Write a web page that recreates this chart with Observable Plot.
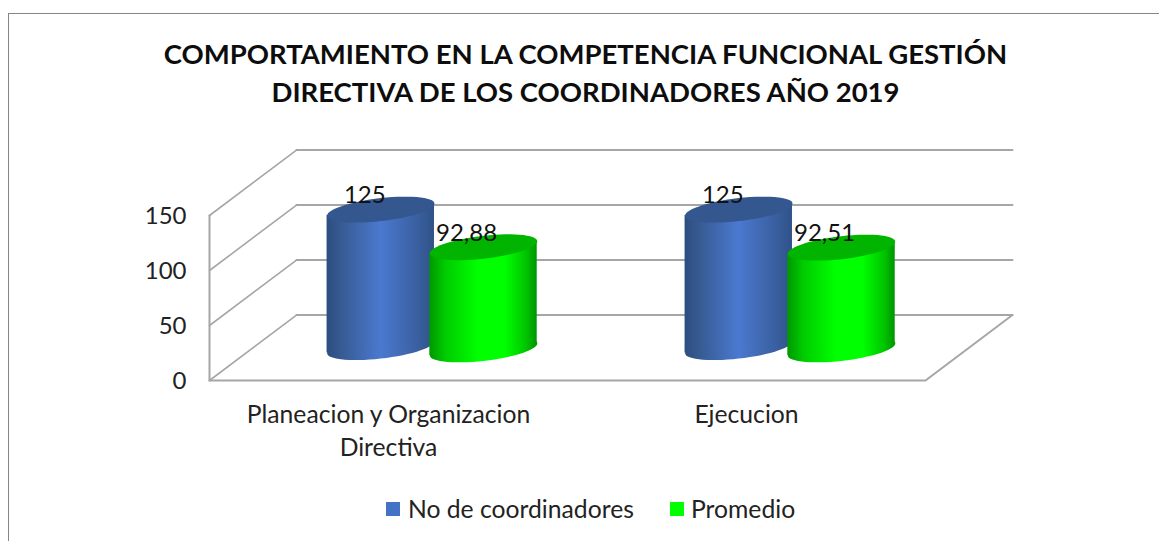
<!DOCTYPE html>
<html lang="es">
<head>
<meta charset="utf-8">
<script src="https://cdn.jsdelivr.net/npm/d3@7"></script>
<script src="https://cdn.jsdelivr.net/npm/@observablehq/plot@0.6"></script>
<style>
  html, body { margin: 0; padding: 0; background: #fff; overflow: hidden; }
  #page { position: relative; width: 1159px; height: 541px; font-family: Lato, sans-serif; color: #111; overflow: hidden; }
  #frame { position: absolute; left: 8px; top: 13px; right: -4px; bottom: -4px; border: 1.4px solid #868686; }
  #title { position: absolute; left: 0; top: 35px; width: 1171px; text-align: center; font-size: 27.5px; font-weight: 700; line-height: 38px; color: #0d0d0d; }
  #chart { position: absolute; left: 0; top: 130px; }
  #legend { position: absolute; left: 0; top: 494px; width: 1159px; height: 30px; font-size: 24.7px; line-height: 30px; color: #222; }
  #legend i { position: absolute; top: 8px; width: 14px; height: 14px; }
  #legend span { position: absolute; top: 0; white-space: nowrap; }
</style>
</head>
<body>
<div id="page">
  <div id="frame"></div>
  <div id="title"></div>
  <div id="chart"></div>
  <div id="legend"></div>
</div>
<script>
const titleLines = ["COMPORTAMIENTO EN LA COMPETENCIA FUNCIONAL GESTIÓN", "DIRECTIVA DE LOS COORDINADORES AÑO 2019"];
const categories = ["Planeacion y Organizacion\nDirectiva", "Ejecucion"];
const seriesNames = ["No de coordinadores", "Promedio"];
const noCoordinadores = [125, 125];
const promedio = [92.88, 92.51];
const valueLabels = [["125", "125"], ["92,88", "92,51"]];
const yTicks = [0, 50, 100, 150];
const seriesColors = ["#4472c4", "#00ff00"];

// page text
document.getElementById("title").innerHTML = titleLines.join("<br>");
const legend = document.getElementById("legend");
[[386, 408], [670, 691]].forEach(([sx, tx], i) => {
  legend.insertAdjacentHTML("beforeend",
    `<i style="left:${sx}px;background:${seriesColors[i]}"></i><span style="left:${tx}px">${seriesNames[i]}</span>`);
});

// oblique projection: category units across, value units up, depth 0..1 into the page
const depthX = 0.243, depthY = 59.5;
const px = (u, d) => u + d * depthX;
const py = (v, d) => v + d * depthY;
const xSpan = 2;
const yMax = yTicks[yTicks.length - 1];

const width = 1159, height = 350;
const marginLeft = 209, marginRight = 234, marginTop = 85, marginBottom = 100;
const pxPerUnit = (width - marginLeft - marginRight) / xSpan;
const pxPerValue = (height - marginTop - marginBottom) / yMax;

// tilted ellipse for the cylinder caps
const halfW = 0.15;
const a = halfW * pxPerUnit, skew = 6, b = 11.5;
const capSymbol = {
  draw(ctx) {
    const n = 60;
    for (let i = 0; i < n; ++i) {
      const t = (2 * Math.PI * i) / n;
      const x = a * Math.cos(t);
      const y = b * Math.sin(t) - skew * Math.cos(t);
      i ? ctx.lineTo(x, y) : ctx.moveTo(x, y);
    }
    ctx.closePath();
  }
};

// cylinders
const series = [
  {values: noCoordinadores, offset: -0.1455, depth: 0.51, grad: "gBlue", top: "#35578f", dx: -16},
  {values: promedio, offset: 0.15, depth: 0.475, grad: "gGreen", top: "#00b400", dx: -17}
];
const tilt = skew / pxPerValue;
const cylinderMarks = [];
series.forEach((s, si) => {
  const rows = s.values.map((v, i) => ({
    i, v,
    x: px(i + 0.5 + s.offset, s.depth),
    base: py(0, s.depth),
    top: py(v, s.depth),
    label: valueLabels[si][i]
  }));
  // left end of the body sits low, right end high, following the caps' tilt
  const body = rows.flatMap(r => [
    {id: r.i, x: r.x - halfW, y1: r.base - tilt, y2: r.top - tilt},
    {id: r.i, x: r.x + halfW, y1: r.base + tilt, y2: r.top + tilt}
  ]);
  cylinderMarks.push(
    Plot.dot(rows, {x: "x", y: "base", r: 10, symbol: capSymbol, fill: `url(#${s.grad})`, stroke: "none"}),
    Plot.areaY(body, {x: "x", y1: "y1", y2: "y2", z: "id", fill: `url(#${s.grad})`, curve: "linear"}),
    Plot.dot(rows, {x: "x", y: "top", r: 10, symbol: capSymbol, fill: s.top, stroke: "none"})
  );
  s.rows = rows;
});

// chart box
const wallColor = "#a6a6a6";
const backGrid = yTicks.map(t => [{x: px(0, 1), y: py(t, 1), t}, {x: px(xSpan, 1), y: py(t, 1), t}]).flat();
const sideGrid = yTicks.map(t => [{x: px(0, 0), y: py(t, 0), t}, {x: px(0, 1), y: py(t, 1), t}]).flat();
const frontEdge = [{x: px(0, 0), y: 0}, {x: px(0, 0), y: yMax}];
const floorEdge = [
  {x: px(0, 0), y: 0},
  {x: px(xSpan, 0), y: 0},
  {x: px(xSpan, 1), y: py(0, 1)}
];

const gradient = (id, stops) => () => {
  const g = d3.create("svg:linearGradient").attr("id", id)
    .attr("x1", 0).attr("x2", 1).attr("y1", 0).attr("y2", 0);
  stops.forEach(([o, c]) => g.append("stop").attr("offset", o).attr("stop-color", c));
  const defs = d3.create("svg:defs");
  defs.append(() => g.node());
  return defs.node();
};

const catRows = categories.map((c, i) => ({c, x: i + 0.5}));

const chart = Plot.plot({
  width, height, marginLeft, marginRight, marginTop, marginBottom,
  x: {domain: [0, xSpan], axis: null},
  y: {domain: [0, yMax], axis: null},
  style: {background: "transparent", fontFamily: "Lato, sans-serif", overflow: "visible"},
  marks: [
    gradient("gBlue", [[0, "#2c4d80"], [0.12, "#36598f"], [0.5, "#4a79d0"], [0.85, "#3a5f9f"], [1, "#2f5288"]]),
    gradient("gGreen", [[0, "#009800"], [0.15, "#00cc00"], [0.45, "#00ff00"], [0.7, "#00ff00"], [0.9, "#00c400"], [1, "#009400"]]),
    Plot.line(backGrid, {x: "x", y: "y", z: "t", stroke: wallColor, strokeWidth: 2}),
    Plot.line(sideGrid, {x: "x", y: "y", z: "t", stroke: wallColor, strokeWidth: 1.6}),
    Plot.line(frontEdge, {x: "x", y: "y", stroke: wallColor, strokeWidth: 2}),
    Plot.line(floorEdge, {x: "x", y: "y", stroke: wallColor, strokeWidth: 2}),
    ...cylinderMarks,
    ...series.map(s => Plot.text(s.rows, {x: "x", y: "top", text: "label", dx: s.dx, dy: -14, fontSize: 24, fill: "#111"})),
    Plot.axisY({ticks: yTicks, tickSize: 0, tickPadding: 23, label: null, fontSize: 24, color: "#222", dy: 1}),
    Plot.text(catRows, {x: "x", y: () => 0, text: "c", dy: 19, lineAnchor: "top", lineHeight: 1.34, fontSize: 24.7, fill: "#222"})
  ]
});
document.getElementById("chart").appendChild(chart);
</script>
</body>
</html>
